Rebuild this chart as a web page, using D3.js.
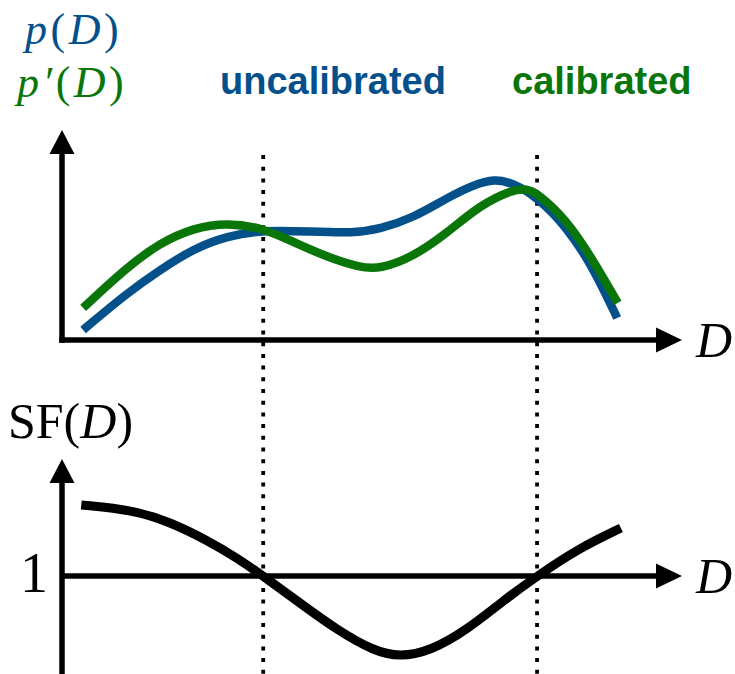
<!DOCTYPE html>
<html>
<head>
<meta charset="utf-8">
<script src="https://cdn.jsdelivr.net/npm/d3@7/dist/d3.min.js"></script>
<style>
  html, body { margin: 0; padding: 0; background: #fff; }
  svg { display: block; }
</style>
</head>
<body>
<svg id="chart" width="735" height="674"></svg>
<script>
// Position along D (arbitrary units 0..100)
const dUncal = [3.4, 10.5, 15.8, 21.1, 26.6, 32.4, 39.9, 46.9, 51.2, 56.5, 62.0, 66.2, 69.7, 72.6, 76.5, 81.3, 85.5, 89.4];
// Uncalibrated density p(D)
const pUncal = [0.52, 2.44, 3.63, 4.72, 5.39, 5.70, 5.62, 5.54, 5.75, 6.32, 7.36, 8.03, 8.35, 8.13, 7.41, 5.85, 3.78, 1.14];

const dCal = [3.4, 10.5, 15.8, 21.1, 26.6, 32.4, 37.2, 42.7, 48.0, 51.2, 56.5, 62.0, 67.3, 72.6, 74.9, 76.5, 81.3, 85.5, 89.5];
// Calibrated density p'(D)
const pCal = [1.66, 3.78, 5.03, 5.80, 6.08, 5.80, 5.08, 4.30, 3.75, 3.68, 4.30, 5.54, 6.99, 7.80, 7.82, 7.62, 6.22, 4.15, 1.92];

const dSF = [3.1, 11.4, 17.4, 23.3, 28.2, 32.4, 38.3, 44.3, 50.2, 54.4, 59.3, 65.2, 71.2, 76.5, 83.3, 90.0];
// Scale factor SF(D) = p'(D) / p(D)
const sf = [1.71, 1.66, 1.54, 1.36, 1.18, 1.00, 0.73, 0.46, 0.25, 0.19, 0.25, 0.46, 0.76, 1.00, 1.28, 1.48];

// D values where SF(D) = 1
const crossings = [32.4, 76.5];
const sfTicks = [1];

const BLUE = "#03508a";
const GREEN = "#0a760a";

const svg = d3.select("#chart");

const x = d3.scaleLinear().domain([0, 100]).range([62, 683]);
const yTop = d3.scaleLinear().domain([0, 10]).range([340, 147]);
const yBot = d3.scaleLinear().domain([0, 2]).range([676, 476]);

const axisW = 5.5;
const arrow = (g, tipX, tipY, dir) => {
  // dir: "up" or "right"
  const L = 24, H = 12.5;
  const pts = dir === "up"
    ? [[tipX, tipY], [tipX - H, tipY + L], [tipX + H, tipY + L]]
    : [[tipX, tipY], [tipX - L - 2, tipY - H], [tipX - L - 2, tipY + H]];
  g.append("path").attr("d", "M" + pts.map(p => p.join(",")).join("L") + "Z").attr("fill", "#000");
};

// dotted guides at the crossing points
svg.append("g").selectAll("line").data(crossings).join("line")
  .attr("x1", d => x(d)).attr("x2", d => x(d))
  .attr("y1", 155).attr("y2", 674)
  .attr("stroke", "#000").attr("stroke-width", 3.8)
  .attr("stroke-dasharray", "4 7.7");

// ---- upper panel axes
const upper = svg.append("g");
upper.append("line").attr("x1", x(0)).attr("x2", x(0)).attr("y1", yTop(0) + axisW / 2).attr("y2", 150)
  .attr("stroke", "#000").attr("stroke-width", axisW);
upper.append("line").attr("x1", x(0) - axisW / 2).attr("x2", 660).attr("y1", yTop(0)).attr("y2", yTop(0))
  .attr("stroke", "#000").attr("stroke-width", axisW);
arrow(upper, x(0), 130, "up");
arrow(upper, 682, yTop(0), "right");

// ---- density curves (smoothed B-spline through the sampled values)
const lineTop = (ds, vs) => d3.line().x((d, i) => x(ds[i])).y(d => yTop(d)).curve(d3.curveBasis)(vs);
svg.append("path").attr("d", lineTop(dUncal, pUncal))
  .attr("fill", "none").attr("stroke", BLUE).attr("stroke-width", 8.5);
svg.append("path").attr("d", lineTop(dCal, pCal))
  .attr("fill", "none").attr("stroke", GREEN).attr("stroke-width", 8.5);

// ---- lower panel axes
const lower = svg.append("g");
lower.append("line").attr("x1", x(0)).attr("x2", x(0)).attr("y1", 674).attr("y2", 478)
  .attr("stroke", "#000").attr("stroke-width", axisW);
lower.append("line").attr("x1", x(0)).attr("x2", 660).attr("y1", yBot(1)).attr("y2", yBot(1))
  .attr("stroke", "#000").attr("stroke-width", axisW);
arrow(lower, x(0), 459, "up");
arrow(lower, 682, yBot(1), "right");

const lineBot = d3.line().x((d, i) => x(dSF[i])).y(d => yBot(d)).curve(d3.curveBasis);
svg.append("path").attr("d", lineBot(sf))
  .attr("fill", "none").attr("stroke", "#000").attr("stroke-width", 9);

// ---- text
const serif = "'Liberation Serif', 'DejaVu Serif', serif";
const sans = "'Liberation Sans', Arial, sans-serif";

// p(D) and p'(D)
const t1 = svg.append("text").attr("x", 25).attr("y", 44)
  .attr("font-family", serif).attr("font-size", 44).attr("fill", BLUE).attr("letter-spacing", 3.5);
t1.append("tspan").attr("font-style", "italic").text("p");
t1.append("tspan").text("(");
t1.append("tspan").attr("font-style", "italic").text("D");
t1.append("tspan").text(")");

const t2 = svg.append("text").attr("x", 17).attr("y", 97)
  .attr("font-family", serif).attr("font-size", 44).attr("fill", GREEN).attr("letter-spacing", 3.5);
t2.append("tspan").attr("font-style", "italic").text("p′");
t2.append("tspan").text("(");
t2.append("tspan").attr("font-style", "italic").text("D");
t2.append("tspan").text(")");

svg.append("text").attr("x", 220).attr("y", 94)
  .attr("font-family", sans).attr("font-weight", "bold").attr("font-size", 38)
  .attr("fill", BLUE).text("uncalibrated");
svg.append("text").attr("x", 512).attr("y", 94)
  .attr("font-family", sans).attr("font-weight", "bold").attr("font-size", 38)
  .attr("fill", GREEN).text("calibrated");

// axis titles
svg.append("text").attr("x", 696).attr("y", 357)
  .attr("font-family", serif).attr("font-style", "italic").attr("font-size", 50).text("D");
svg.append("text").attr("x", 696).attr("y", 593)
  .attr("font-family", serif).attr("font-style", "italic").attr("font-size", 50).text("D");

const sfLab = svg.append("text").attr("x", 8).attr("y", 438)
  .attr("font-family", serif).attr("font-size", 50);
sfLab.append("tspan").text("SF(");
sfLab.append("tspan").attr("font-style", "italic").text("D");
sfLab.append("tspan").text(")");

svg.append("g").selectAll("text").data(sfTicks).join("text")
  .attr("x", 48).attr("y", d => yBot(d) + 16)
  .attr("text-anchor", "end")
  .attr("font-family", serif).attr("font-size", 56).text(d => d);
</script>
</body>
</html>
